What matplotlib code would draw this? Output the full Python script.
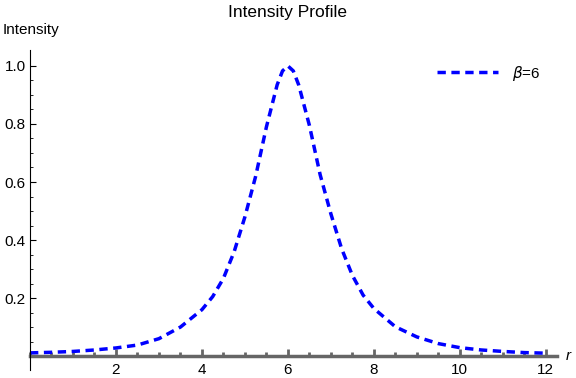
import matplotlib.pyplot as plt
from matplotlib.ticker import MultipleLocator, FixedLocator

plt.rcParams['font.family'] = ['Liberation Sans', 'DejaVu Sans']

# intensity profile, beta = 6
r = [0, 0.5, 1, 1.5, 2, 2.5, 3, 3.5, 4, 4.25, 4.5, 4.75, 5, 5.25, 5.5, 5.75,
     5.875, 6, 6.125, 6.25, 6.5, 6.75, 7, 7.25, 7.5, 7.75, 8, 8.5, 9, 9.5,
     10, 10.5, 11, 11.5, 12]
intensity = [0.011, 0.013, 0.016, 0.021, 0.028, 0.038, 0.060, 0.100, 0.160,
             0.205, 0.268, 0.360, 0.48, 0.62, 0.79, 0.935, 0.983, 1.0, 0.983,
             0.935, 0.795, 0.625, 0.49, 0.37, 0.278, 0.21, 0.164, 0.101,
             0.066, 0.043, 0.029, 0.021, 0.016, 0.012, 0.010]
xticks = [2, 4, 6, 8, 10, 12]
yticks = [0.2, 0.4, 0.6, 0.8, 1.0]

fig = plt.figure(figsize=(5.76, 3.78), dpi=100)
ax = fig.add_axes([30 / 576, 8 / 378, 527 / 576, 320 / 378])

ax.plot(r, intensity, color='#0000ff', lw=2.5, linestyle=(0, (2.4, 1.6)),
        label=r'$\beta$=6', clip_on=False)

ax.set_xlim(0, 12.26)
ax.set_ylim(-0.048, 1.055)

for s in ['top', 'right']:
    ax.spines[s].set_visible(False)
ax.spines['left'].set_linewidth(0.8)
ax.spines['bottom'].set_position(('data', 0))
ax.spines['bottom'].set_color('#666666')
ax.spines['bottom'].set_linewidth(2.5)
ax.spines['bottom'].set_zorder(0.5)

ax.xaxis.set_major_locator(FixedLocator(xticks))
ax.xaxis.set_minor_locator(MultipleLocator(0.5))
ax.yaxis.set_major_locator(FixedLocator(yticks))
ax.yaxis.set_minor_locator(FixedLocator([i * 0.05 for i in range(1, 21)]))
ax.set_yticklabels(['0.2', '0.4', '0.6', '0.8', '1.0'])

ax.tick_params(axis='x', which='major', direction='in', length=5, width=2,
               color='#666666', labelsize=11, pad=5)
ax.tick_params(axis='x', which='minor', direction='in', length=3, width=2,
               color='#666666')
ax.tick_params(axis='y', which='major', direction='in', length=4, width=0.8,
               labelsize=11, pad=3)
ax.tick_params(axis='y', which='minor', direction='in', length=2.5, width=0.6)

fig.text(3 / 576, 1 - 30 / 378, 'Intensity', fontsize=11, va='center', ha='left')
fig.text(566 / 576, 1 - 356 / 378, 'r', fontsize=11, style='italic',
         va='center', ha='left')
fig.text(0.5, 1 - 12 / 378, 'Intensity Profile', fontsize=12.5, ha='center',
         va='center')

ax.legend(loc='upper right', bbox_to_anchor=(0.995, 1.0), frameon=False,
          fontsize=11, handlelength=4.0, handletextpad=0.9)

fig.savefig('out.png', dpi=100)
plt.close(fig)
